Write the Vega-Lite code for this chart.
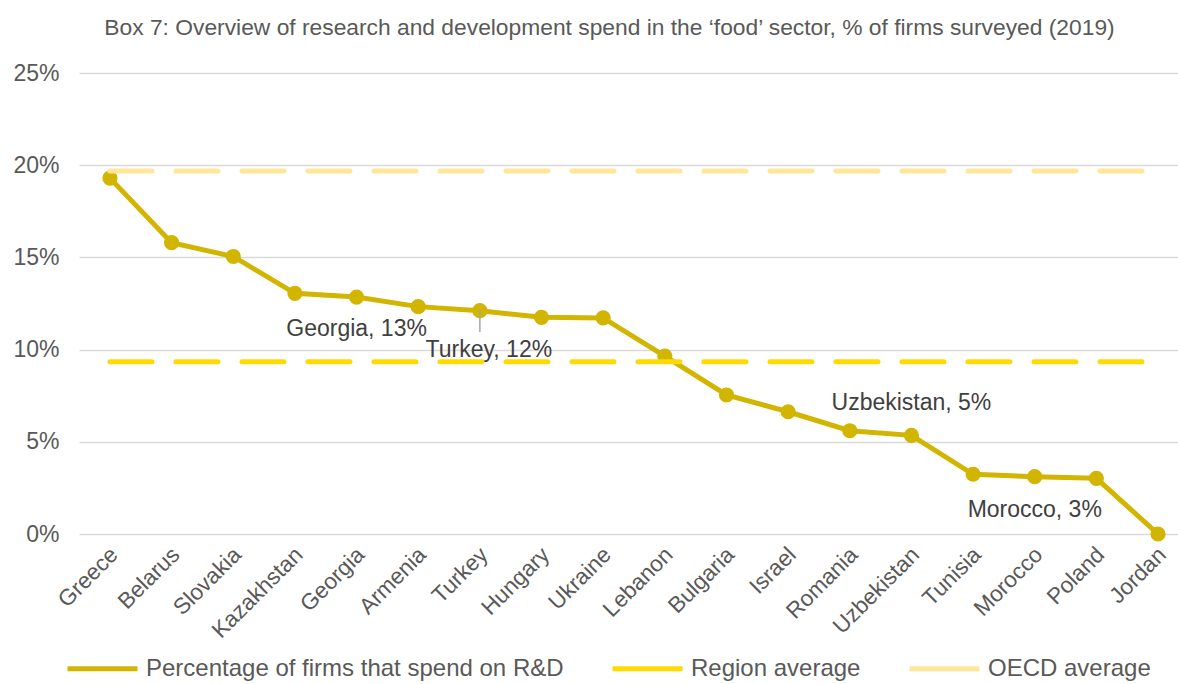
{
  "$schema": "https://vega.github.io/schema/vega-lite/v6.json",
  "width": 1099,
  "height": 461,
  "autosize": {"type": "none"},
  "padding": {"left": 79, "top": 73, "right": 0, "bottom": 150},
  "background": "white",
  "config": {"font": "Liberation Sans", "view": {"stroke": null}},
  "title": {
    "text": "Box 7: Overview of research and development spend in the ‘food’ sector, % of firms surveyed (2019)",
    "fontSize": 22.8, "fontWeight": "normal", "color": "#595959", "font": "Liberation Sans",
    "anchor": "middle", "dx": -19, "offset": 22
  },
  "datasets": {
    "firms": [
      {"country": "Greece", "value": 19.3},
      {"country": "Belarus", "value": 15.8},
      {"country": "Slovakia", "value": 15.05},
      {"country": "Kazakhstan", "value": 13.05},
      {"country": "Georgia", "value": 12.85},
      {"country": "Armenia", "value": 12.33},
      {"country": "Turkey", "value": 12.11},
      {"country": "Hungary", "value": 11.75},
      {"country": "Ukraine", "value": 11.72},
      {"country": "Lebanon", "value": 9.65},
      {"country": "Bulgaria", "value": 7.54},
      {"country": "Israel", "value": 6.63},
      {"country": "Romania", "value": 5.6},
      {"country": "Uzbekistan", "value": 5.35},
      {"country": "Tunisia", "value": 3.24},
      {"country": "Morocco", "value": 3.11},
      {"country": "Poland", "value": 3.02},
      {"country": "Jordan", "value": 0}
    ],
    "averages": [
      {"series": "Region average", "value": 9.34},
      {"series": "OECD average", "value": 19.69}
    ],
    "notes": [
      {"country": "Georgia", "label": "Georgia, 13%", "value": 11.1},
      {"country": "Uzbekistan", "label": "Uzbekistan, 5%", "value": 7.08},
      {"country": "Morocco", "label": "Morocco, 3%", "value": 1.3}
    ],
    "turkey": [
      {"country": "Turkey", "label": "Turkey, 12%", "value": 9.98, "from": 12.1, "to": 10.95}
    ]
  },
  "layer": [
    {
      "data": {"name": "firms"},
      "mark": {"type": "line", "strokeWidth": 5, "point": {"filled": true, "size": 230}},
      "encoding": {
        "x": {
          "field": "country", "type": "nominal",
          "scale": {
            "type": "point", "padding": 0.413, "align": 0.608,
            "domain": ["Greece", "Belarus", "Slovakia", "Kazakhstan", "Georgia", "Armenia", "Turkey", "Hungary", "Ukraine", "Lebanon", "Bulgaria", "Israel", "Romania", "Uzbekistan", "Tunisia", "Morocco", "Poland", "Jordan"]
          },
          "axis": {
            "title": null, "labelAngle": -45, "labelFontSize": 22.5, "labelColor": "#595959",
            "domain": false, "ticks": false, "labelPadding": 9, "labelOffset": -4, "labelFont": "Liberation Sans"
          }
        },
        "y": {
          "field": "value", "type": "quantitative",
          "scale": {"domain": [0, 25], "nice": false},
          "axis": {
            "title": null, "values": [0, 5, 10, 15, 20, 25], "labelExpr": "datum.value + '%'",
            "labelFontSize": 23, "labelColor": "#595959", "labelFont": "Liberation Sans",
            "domain": false, "ticks": false, "labelPadding": 20,
            "gridColor": "#D9D9D9", "gridWidth": 1.5
          }
        },
        "color": {
          "datum": "Percentage of firms that spend on R&D",
          "scale": {
            "domain": ["Percentage of firms that spend on R&D", "Region average", "OECD average"],
            "range": ["#D1B500", "#FFDA00", "#FFE699"]
          },
          "legend": {
            "title": null, "orient": "none", "legendX": -14, "legendY": 558,
            "direction": "horizontal", "symbolType": "stroke", "symbolSize": 4900,
            "symbolStrokeWidth": 5, "labelFontSize": 24, "labelColor": "#595959",
            "labelFont": "Liberation Sans", "labelOffset": 6, "columnPadding": 38, "labelLimit": 600
          }
        }
      }
    },
    {
      "data": {"name": "averages"},
      "mark": {"type": "rule", "strokeWidth": 5, "strokeDash": [42, 24], "strokeCap": "round"},
      "encoding": {
        "x": {"datum": "Greece"},
        "x2": {"datum": "Jordan"},
        "y": {"field": "value", "type": "quantitative"},
        "color": {
          "field": "series", "type": "nominal",
          "legend": {
            "title": null, "orient": "none", "legendX": -14, "legendY": 558,
            "direction": "horizontal", "symbolType": "stroke", "symbolSize": 4900,
            "symbolStrokeWidth": 5, "labelFontSize": 24, "labelColor": "#595959",
            "labelFont": "Liberation Sans", "labelOffset": 6, "columnPadding": 38, "labelLimit": 600
          }
        }
      }
    },
    {
      "data": {"name": "turkey"},
      "mark": {"type": "rule", "color": "#A6A6A6", "strokeWidth": 1.5},
      "encoding": {
        "x": {"field": "country", "type": "nominal"},
        "y": {"field": "from", "type": "quantitative"},
        "y2": {"field": "to"}
      }
    },
    {
      "data": {"name": "notes"},
      "mark": {"type": "text", "fontSize": 23, "color": "#404040", "font": "Liberation Sans", "baseline": "middle", "align": "center"},
      "encoding": {
        "x": {"field": "country", "type": "nominal"},
        "y": {"field": "value", "type": "quantitative"},
        "text": {"field": "label"}
      }
    },
    {
      "data": {"name": "turkey"},
      "mark": {"type": "text", "fontSize": 23, "color": "#404040", "font": "Liberation Sans", "baseline": "middle", "align": "center", "dx": 9},
      "encoding": {
        "x": {"field": "country", "type": "nominal"},
        "y": {"field": "value", "type": "quantitative"},
        "text": {"field": "label"}
      }
    }
  ]
}
